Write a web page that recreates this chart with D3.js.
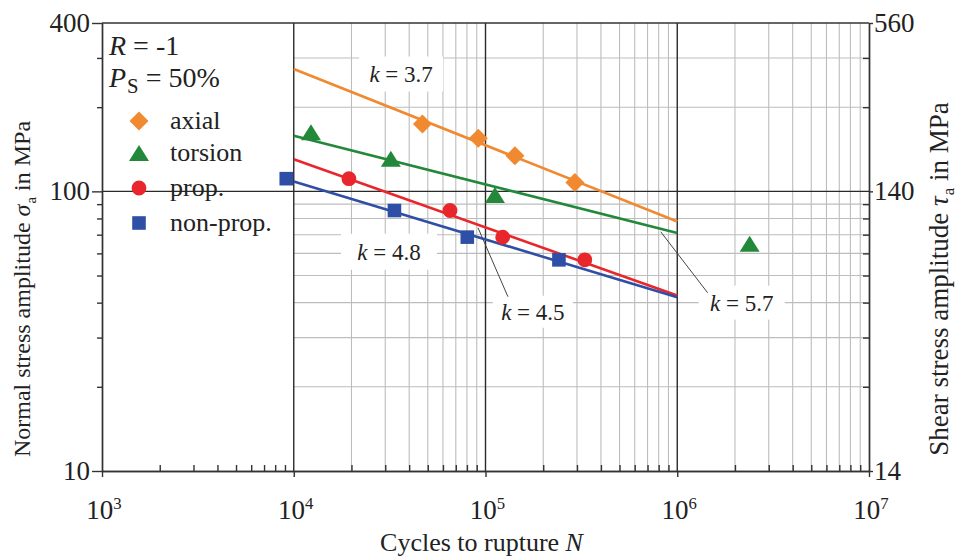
<!DOCTYPE html>
<html lang="en">
<head>
<meta charset="utf-8">
<title>S-N curves</title>
<script src="https://cdnjs.cloudflare.com/ajax/libs/d3/7.8.5/d3.min.js"></script>
<style>
body { margin: 0; background: #fff; }
svg { font-family: "Liberation Serif", "Times New Roman", serif; fill: #222; }
.grid-minor line { stroke: #bdbdbd; stroke-width: 1.1; }
.grid-major line { stroke: #2a2a2a; stroke-width: 1.4; }
.axis path, .axis line { stroke: #333; stroke-width: 1.4; fill: none; }
.fit { fill: none; stroke-width: 2.6; }
.leader { stroke: #444; stroke-width: 1; }
</style>
</head>
<body>
<div id="vis_container"></div>
<script>
// ---- data ----
// cycles to rupture N and stress amplitude (sigma in MPa, torsion as tau in MPa)
var axialN = [46900, 91700, 142400, 292500];
var axialS = [174, 155, 134, 107.5];
var torsionN = [12300, 32100, 112000, 2385000];
var torsionT = [228, 183, 136, 91];
var propN = [19400, 65300, 122900, 329500];
var propS = [111, 85.4, 68.6, 56.9];
var nonpropN = [9140, 33500, 80350, 241500];
var nonpropS = [111, 85.4, 68.6, 56.9];

// fitted S-N lines, value at N = 1e4 and N = 1e6
var fitN = [1e4, 1e6];
var axialFit = [274, 78];
var torsionFitT = [221.5, 99.3];
var propFit = [130.3, 42.4];
var nonpropFit = [108.4, 41.8];

var seriesNames = ["axial", "torsion", "prop.", "non-prop."];
var slopeLabels = ["3.7", "4.8", "4.5", "5.7"];

var xMajor = [1e3, 1e4, 1e5, 1e6, 1e7];
var yMajor = [10, 100, 400];
var yRightMajor = [14, 140, 560];

var colors = {axial: "#f0892f", torsion: "#23883a", prop: "#e8262b", nonprop: "#2f4fa6"};

var margin = {top: 23, right: 91, bottom: 87, left: 102},
    width = 960 - margin.left - margin.right,
    height = 558 - margin.top - margin.bottom;

var x = d3.scaleLog().domain([1e3, 1e7]).range([0, width]);
var y = d3.scaleLog().domain([10, 400]).range([height, 0]);
var yR = d3.scaleLog().domain([14, 560]).range([height, 0]);

var svg = d3.select("#vis_container").append("svg")
    .attr("width", 960).attr("height", 558);
var canvas = svg.append("g")
    .attr("transform", "translate(" + margin.left + "," + margin.top + ")");

function addText(parent, px, py, anchor, size, rot) {
    var t = "translate(" + px + "," + py + ")" + (rot ? " rotate(" + rot + ")" : "");
    return parent.append("text").attr("transform", t)
        .attr("text-anchor", anchor).style("font-size", size + "px");
}
function runs(sel, parts) {
    var shift = 0;
    parts.forEach(function(p) {
        var ts = sel.append("tspan").text(p[0]);
        if (p[1] == "i") ts.style("font-style", "italic");
        if (p[1] == "sub") {
            ts.attr("dy", 6).attr("dx", 1).style("font-size", p[2] || "0.62em");
            shift = 6;
        } else if (p[1] == "sup") {
            ts.attr("dy", -10).style("font-size", "0.62em");
            shift = -10;
        } else if (shift) {
            ts.attr("dy", -shift);
            shift = 0;
        }
    });
}

// ---- grid ----
var isDecade = function(v) { return Math.abs(Math.log10(v) - Math.round(Math.log10(v))) < 1e-9; };
var xMinor = x.ticks().filter(function(v) { return !isDecade(v); });
var xMinorGrid = xMinor.filter(function(v) { return v > 1e4; });
var yMinor = y.ticks().filter(function(v) { return yMajor.indexOf(v) < 0; });

var gMinor = canvas.append("g").attr("class", "grid-minor");
gMinor.selectAll(".vx").data(xMinorGrid).enter().append("line")
    .attr("x1", function(d) { return x(d); }).attr("x2", function(d) { return x(d); })
    .attr("y1", 0).attr("y2", height);
gMinor.selectAll(".hy").data(yMinor).enter().append("line")
    .attr("x1", x(1e4)).attr("x2", width)
    .attr("y1", function(d) { return y(d); }).attr("y2", function(d) { return y(d); });

var gMajor = canvas.append("g").attr("class", "grid-major");
gMajor.selectAll(".vx").data([1e4, 1e5, 1e6]).enter().append("line")
    .attr("x1", function(d) { return x(d); }).attr("x2", function(d) { return x(d); })
    .attr("y1", 0).attr("y2", height);
gMajor.append("line").attr("x1", 0).attr("x2", width).attr("y1", y(100)).attr("y2", y(100));

// ---- slope labels (white boxes over the grid) ----
var labelN = [36300, 31400, 176600, 2170000];
var labelS = [262.8, 60.8, 37.1, 40.0];
var boxW = [84, 96, 80, 86], boxH = [35, 36, 32, 34];
var gLab = canvas.append("g");
slopeLabels.forEach(function(k, i) {
    gLab.append("rect")
        .attr("x", x(labelN[i]) - boxW[i] / 2).attr("y", y(labelS[i]) - boxH[i] / 2)
        .attr("width", boxW[i]).attr("height", boxH[i]).attr("fill", "#fff");
});
// leader lines for 4.5 and 5.7
var leaders = [[[91400, 74.1], [130900, 42.0]], [[820000, 71.7], [1440000, 43.4]]];
leaders.forEach(function(l) {
    canvas.append("line").attr("class", "leader")
        .attr("x1", x(l[0][0])).attr("y1", y(l[0][1]))
        .attr("x2", x(l[1][0])).attr("y2", y(l[1][1]));
});
slopeLabels.forEach(function(k, i) {
    var t = addText(gLab, x(labelN[i]), y(labelS[i]) + 8, "middle", 23);
    runs(t, [["k", "i"], [" = " + k, ""]]);
});

// ---- fit lines ----
function fitLine(vals, scale, col) {
    canvas.append("path").attr("class", "fit").attr("stroke", col)
        .attr("d", d3.line().x(function(d, i) { return x(fitN[i]); }).y(function(d) { return scale(d); })(vals));
}
fitLine(axialFit, y, colors.axial);
fitLine(torsionFitT, yR, colors.torsion);
fitLine(propFit, y, colors.prop);
fitLine(nonpropFit, y, colors.nonprop);

// ---- markers ----
var shapes = {
    diamond: "M0,-9.5L9.5,0L0,9.5L-9.5,0Z",
    triangle: "M0,-8L10,8L-10,8Z",
    circle: d3.symbol().type(d3.symbolCircle).size(Math.PI * 7.4 * 7.4)(),
    square: "M-6.8,-6.8H6.8V6.8H-6.8Z"
};
function markers(ns, vs, scale, shape, col) {
    canvas.append("g").selectAll("path").data(ns).enter().append("path")
        .attr("d", shapes[shape]).attr("fill", col)
        .attr("transform", function(d, i) { return "translate(" + x(d) + "," + scale(vs[i]) + ")"; });
}
markers(axialN, axialS, y, "diamond", colors.axial);
markers(torsionN, torsionT, yR, "triangle", colors.torsion);
markers(propN, propS, y, "circle", colors.prop);
markers(nonpropN, nonpropS, y, "square", colors.nonprop);

// ---- axes ----
canvas.append("g").attr("class", "axis")
    .call(d3.axisLeft(y).tickValues(yMajor).tickSize(10).tickSizeOuter(0).tickFormat(""));
canvas.append("g").attr("class", "axis")
    .call(d3.axisLeft(y).tickValues(yMinor).tickSize(5).tickSizeOuter(0).tickFormat(""));
canvas.append("g").attr("class", "axis").attr("transform", "translate(" + width + ",0)")
    .call(d3.axisRight(yR).tickValues(yRightMajor).tickSize(4).tickSizeOuter(0).tickFormat(""));
canvas.append("g").attr("class", "axis").attr("transform", "translate(" + width + ",0)")
    .call(d3.axisRight(yR).tickValues(yMinor.map(function(v) { return v * 1.4; })).tickSize(-6).tickSizeOuter(0).tickFormat(""));
canvas.append("g").attr("class", "axis").attr("transform", "translate(0," + height + ")")
    .call(d3.axisBottom(x).tickValues(xMajor).tickSize(6).tickSizeOuter(0).tickFormat(""));
canvas.append("g").attr("class", "axis").attr("transform", "translate(0," + height + ")")
    .call(d3.axisBottom(x).tickValues(xMinor).tickSize(-6).tickSizeOuter(0).tickFormat(""));
canvas.append("line").attr("class", "axis").attr("x1", 0).attr("x2", width).attr("y1", 0).attr("y2", 0)
    .style("stroke", "#333").style("stroke-width", 1.4);

// tick labels
yMajor.forEach(function(v) {
    addText(canvas, -12, y(v) + 9, "end", 27).text(v);
});
yRightMajor.forEach(function(v) {
    addText(canvas, width + 5, yR(v) + 9, "start", 27).text(v);
});
xMajor.forEach(function(v) {
    var t = addText(canvas, x(v) + 2, height + 48, "middle", 27);
    runs(t, [["10", ""], [String(Math.round(Math.log10(v))), "sup"]]);
});

// axis titles
runs(addText(canvas, width / 2 - 4, height + 80, "middle", 26), [["Cycles to rupture ", ""], ["N", "i"]]);
runs(addText(canvas, -72, height / 2 + 42, "middle", 24, -90),
    [["Normal stress amplitude ", ""], ["\u03c3", "i"], ["a", "sub"], [" in MPa", ""]]);
runs(addText(canvas, width + 79, height / 2 + 32, "middle", 27, -90),
    [["Shear stress amplitude ", ""], ["\u03c4", "i"], ["a", "sub"], [" in MPa", ""]]);

// ---- legend ----
var leg = canvas.append("g").attr("transform", "translate(6,0)");
runs(addText(leg, 1, 32, "start", 28), [["R", "i"], [" = -1", ""]]);
runs(addText(leg, 1, 64, "start", 28), [["P", "i"], ["S", "sub", "0.74em"], [" = 50%", ""]]);
var legShapes = ["diamond", "triangle", "circle", "square"];
var legCols = [colors.axial, colors.torsion, colors.prop, colors.nonprop];
var legY = [98, 130, 165, 200];
seriesNames.forEach(function(s, i) {
    leg.append("path").attr("d", shapes[legShapes[i]]).attr("fill", legCols[i])
        .attr("transform", "translate(31," + legY[i] + ")");
    addText(leg, 62, legY[i] + 8, "start", 26).text(s);
});
</script>
</body>
</html>
